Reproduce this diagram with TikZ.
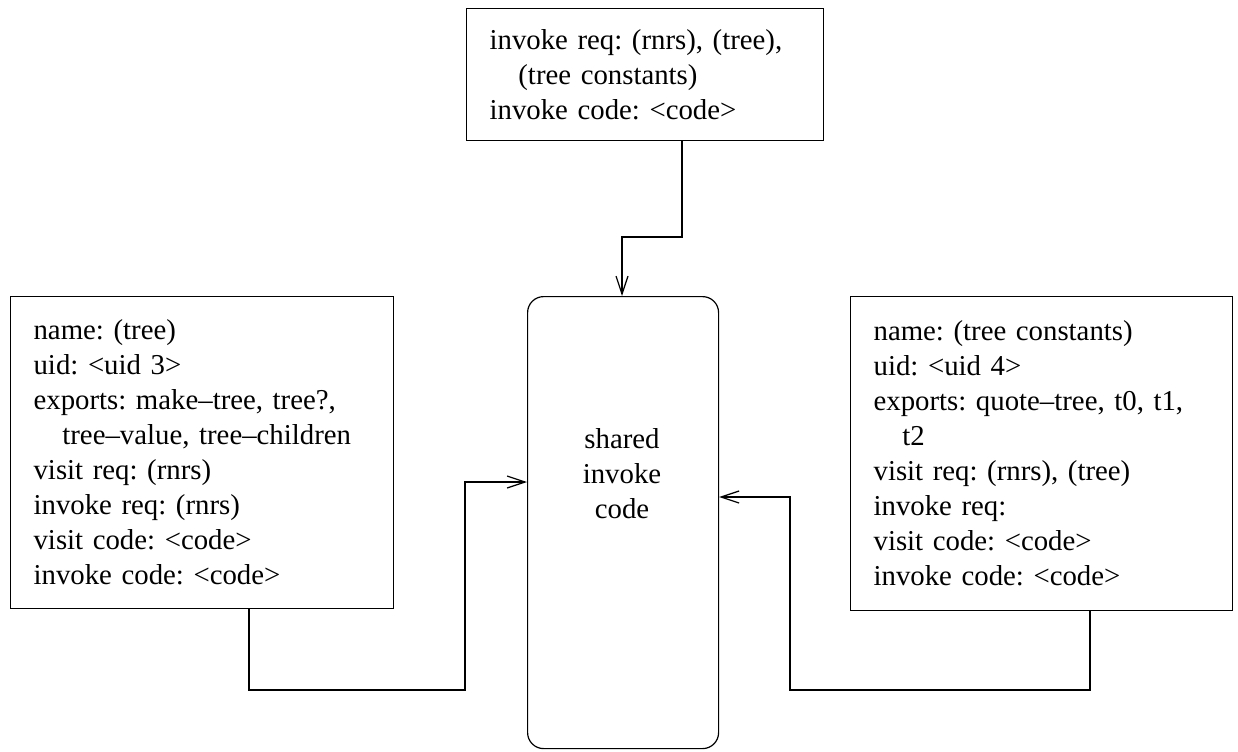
\documentclass[tikz,border=0pt]{standalone}
\usepackage{fontspec}
\setmainfont{Liberation Serif}
\usetikzlibrary{positioning,arrows.meta}
\frenchspacing
\tikzset{
  box/.style={draw, line width=0.6pt, anchor=north west, align=left, inner xsep=11.5pt,
    font=\fontsize{14.4}{17.5}\selectfont},
  shbox/.style={draw, line width=0.6pt, anchor=north west, rounded corners=8pt},
  arr/.style={line width=0.6pt, -{Straight Barb[length=9pt,width=6pt]}},
}
\newcommand{\ind}{\hspace*{1em}}

\begin{document}
\begin{tikzpicture}[x=0.5pt,y=-0.5pt]
    \useasboundingbox (0,0) rectangle (1238,751);

    % modules
    \node[box, minimum width=357*0.5pt, minimum height=132*0.5pt, text width=155.5pt] (invoke) at (466,8)
      {invoke req: (rnrs), (tree),\\ \ind(tree constants)\\ invoke code: <code>};
    \node[box, minimum width=383*0.5pt, minimum height=312*0.5pt, text width=168.5pt] (tree) at (10,296)
      {name: (tree)\\ uid: <uid 3>\\ exports: make--tree, tree?,\\ \ind tree--value, tree--children\\
       visit req: (rnrs)\\ invoke req: (rnrs)\\ visit code: <code>\\ invoke code: <code>};
    \node[box, minimum width=382*0.5pt, minimum height=314*0.5pt, text width=168pt] (const) at (850,296)
      {name: (tree constants)\\ uid: <uid 4>\\ exports: quote--tree, t0, t1,\\ \ind t2\\
       visit req: (rnrs), (tree)\\ invoke req:\\ visit code: <code>\\ invoke code: <code>};

    % shared code
    \node[shbox, minimum width=191*0.5pt, minimum height=452*0.5pt] (shared) at (527,296) {};
    \node[align=center, font=\fontsize{14.4}{17.5}\selectfont] (sharedtxt) at (622,474) {shared\\ invoke\\ code};

    % connectors
    \coordinate (invout) at (682,237);
    \coordinate (invbend) at (622,0);
    \draw[arr] (invoke.south -| invout) |- (invbend |- invout) -- (invbend |- shared.north);

    \coordinate (treeout) at (249,690);
    \coordinate (treebend) at (465,482);
    \draw[arr] (tree.south -| treeout) |- (treebend |- treeout) |- (shared.west |- treebend);

    \coordinate (constout) at (1090,690);
    \coordinate (constbend) at (790,497);
    \draw[arr] (const.south -| constout) |- (constbend |- constout) |- (shared.east |- constbend);
\end{tikzpicture}
\end{document}
